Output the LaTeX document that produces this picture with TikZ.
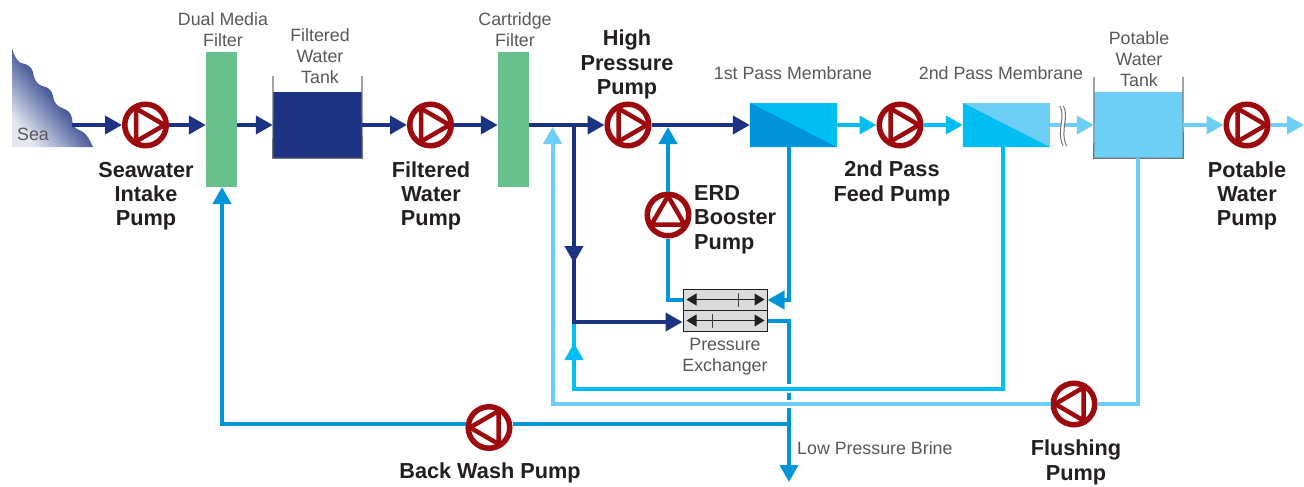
\documentclass[tikz,border=0pt]{standalone}
\usepackage{fontspec}
\setmainfont{Liberation Sans}
\usetikzlibrary{arrows.meta,calc}
\definecolor{navyc}{HTML}{1B3382}
\definecolor{bluec}{HTML}{0095DA}
\definecolor{cyanc}{HTML}{00BDF2}
\definecolor{lightc}{HTML}{6DCFF6}
\definecolor{greenc}{HTML}{68C18C}
\definecolor{redc}{HTML}{9E0B0F}
\definecolor{lab}{HTML}{58595B}
\definecolor{boldc}{HTML}{231F20}
\newcommand{\pumpmark}[2]{\draw[redc,line width=4.5pt,miter limit=10,shift={(#1.center)},rotate=#2] (19,0) -- (-9.5,16.5) -- (-9.5,-16.5) -- cycle;}
\tikzset{
  pumpnode/.style={circle,draw=redc,fill=white,line width=5.5pt,minimum size=41.5pt,inner sep=0pt},
  pipe/.style={line width=4pt,line join=miter,-{Triangle[length=17pt,width=18pt]}},
  plainpipe/.style={line width=4pt,line join=miter},
  thin label/.style={text=lab,font=\fontsize{17.8}{21}\selectfont,align=center,inner sep=0pt},
  bold label/.style={text=boldc,font=\fontsize{21.7}{24.3}\selectfont\bfseries,align=center,inner sep=0pt},
  filterbox/.style={fill=greenc,minimum width=31pt,minimum height=135pt,inner sep=0pt},
  tankbox/.style={minimum width=89pt,minimum height=66pt,inner sep=0pt},
  membranebox/.style={minimum width=87pt,minimum height=44pt,inner sep=0pt},
  exbox/.style={draw=boldc,fill=black!14,line width=1pt,minimum width=84pt,minimum height=21pt,inner sep=0pt},
  exarrow/.style={line width=1pt,draw=boldc,{Triangle[length=10pt,width=12pt]}-{Triangle[length=10pt,width=12pt]}},
  walls/.style={draw=black!55,line width=1.2pt},
}
\begin{document}
\begin{tikzpicture}[x=1pt,y=-1pt]
\useasboundingbox (0,0) rectangle (1304,487);
\fill[white] (0,0) rectangle (1304,487);
% sea
\shade[top color=navyc,bottom color=navyc!12,middle color=navyc!78,shading angle=-50]
 (12,48) .. controls (14,56) and (17,61) .. (21,63)
 .. controls (27,64) and (31,66) .. (33,72)
 .. controls (34,80) and (37,84) .. (42,86)
 .. controls (48,87) and (52,90) .. (53,96)
 .. controls (54,103) and (57,106) .. (62,108)
 .. controls (68,110) and (71,113) .. (72,118)
 .. controls (72,124) and (74,128) .. (79,130)
 .. controls (85,132) and (88,136) .. (93,147)
 -- (12,147) -- cycle;
\coordinate (seaout) at (72,125);
% equipment
\node[filterbox] (dmf) at (221.5,119.5) {};
\node[filterbox] (cf) at (513.5,119.5) {};
\node[tankbox,fill=navyc] (ft) at (317.5,125) {};
\node[tankbox,fill=lightc] (pt) at (1138.5,125) {};
\draw[walls] (273,76) -- (ft.south west) -- (ft.south east) -- (362,76);
\draw[walls] (1094,77) -- (pt.south west) -- (pt.south east) -- (1183,77);
\node[membranebox,fill=cyanc] (m1) at (793.5,125) {};
\fill[bluec] (m1.north west) -- (m1.south east) -- (m1.south west) -- cycle;
\node[membranebox,fill=lightc] (m2) at (1006.5,125) {};
\fill[cyanc] (m2.north west) -- (m2.south east) -- (m2.south west) -- cycle;
% pumps
\node[pumpnode] (p1) at (145.5,125) {};
\node[pumpnode] (p2) at (430.5,125) {};
\node[pumpnode] (p3) at (628,125) {};
\node[pumpnode] (p4) at (900,125) {};
\node[pumpnode] (p5) at (1247,125) {};
\node[pumpnode] (p6) at (668,215) {};
\node[pumpnode] (p7) at (489,427.5) {};
\node[pumpnode] (p8) at (1074,404) {};
\pumpmark{p1}{0}\pumpmark{p2}{0}\pumpmark{p3}{0}\pumpmark{p4}{0}\pumpmark{p5}{0}
\pumpmark{p6}{90}\pumpmark{p7}{180}\pumpmark{p8}{180}
% exchanger
\node[exbox] (ex1) at (725,299.5) {};
\node[exbox] (ex2) at (725,320.5) {};
\draw[exarrow] ($(ex1.west)+(4,0)$) -- ($(ex1.east)+(-3,0)$);
\draw[exarrow] ($(ex2.west)+(4,0)$) -- ($(ex2.east)+(-3,0)$);
\draw[line width=1pt,boldc!85] (738,293) -- (738,307) (712,314) -- (712,328);
% helper coordinates
\coordinate (jn) at (574,125);
\coordinate (jl) at (552.5,127);
\coordinate (je) at (668,127);
\coordinate (jc) at (574,322);
\coordinate (br) at (789,424);
\coordinate (brend) at (789,482);
% light flushing loop
\draw[plainpipe,lightc] (1138,158) |- (p8.east);
\draw[pipe,lightc] (p8.west) -- (552.5,404) -- (jl);
% permeate of second pass
\draw[plainpipe,cyanc] (1003,147) -- (1003,389) -- (574,389) -- (jc);
\draw[pipe,cyanc] (574,389) -- (574,343);
% navy
\draw[pipe,navyc] (seaout) -- (p1.west);
\draw[pipe,navyc] (p1.east) -- (dmf.west |- p1.east);
\draw[pipe,navyc] (dmf.east |- p1.east) -- (ft.west);
\draw[pipe,navyc] (ft.east) -- (p2.west);
\draw[pipe,navyc] (p2.east) -- (cf.west |- p2.east);
\draw[pipe,navyc] (cf.east |- p2.east) -- (p3.west);
\draw[pipe,navyc] (p3.east) -- (m1.west);
\draw[plainpipe,navyc] (jn) -- (jc) -- (600,322);
\draw[pipe,navyc] (jc) -- (ex2.west |- jc);
\draw[pipe,navyc] (jn) -- (574,263);
% cyan
\draw[pipe,cyanc] (m1.east) -- (p4.west);
\draw[pipe,cyanc] (p4.east) -- (m2.west);
% light
\draw[pipe,lightc] (m2.east) -- (pt.west);
\draw[pipe,lightc] (pt.east) -- (p5.west);
\draw[pipe,lightc] (p5.east) -- (1304,125);
% blue
\draw[plainpipe,bluec] (ex1.west |- 0,300) -- (668,300) -- (p6.south);
\draw[pipe,bluec] (p6.north) -- (je);
\draw[pipe,bluec] (789,147) -- (789,300) -- (ex1.east |- 0,300);
\draw[plainpipe,bluec] (ex2.east |- 0,321) -- (789,321) -- (789,384);
\draw[plainpipe,bluec] (789,393) -- (789,400);
\draw[pipe,bluec] (789,408) -- (brend);
\draw[plainpipe,bluec] (br) -- (p7.east |- br);
\draw[pipe,bluec] (p7.west |- br) -- (222,424) -- (222,187);
% wiggle break
\fill[white] (1061,115) rectangle (1065,136);
\draw[line width=1pt,black!55] (1060,106) .. controls (1066,118) and (1056,130) .. (1063,146);
\draw[line width=1pt,black!55] (1063.5,106) .. controls (1069.5,118) and (1059.5,130) .. (1066.5,146);
% labels
\node[thin label] (l1) at (223,30) {Dual Media\\Filter};
\node[thin label] (l2) at (320,56.5) {Filtered\\Water\\Tank};
\node[thin label] (l3) at (515,30) {Cartridge\\Filter};
\node[thin label] (l4) at (793,73) {1st Pass Membrane};
\node[thin label] (l5) at (1001,73) {2nd Pass Membrane};
\node[thin label] (l6) at (1139,59.5) {Potable\\Water\\Tank};
\node[thin label] (l7) at (725,357) {Pressure\\Exchanger};
\node[thin label,anchor=west] (l8) at (797,448) {Low Pressure Brine};
\node[thin label] (l9) at (33,134) {Sea};
\node[bold label] (b1) at (146,196) {Seawater\\Intake\\Pump};
\node[bold label] (b2) at (431,196) {Filtered\\Water\\Pump};
\node[bold label] (b3) at (627,64.5) {High\\Pressure\\Pump};
\node[bold label,align=left,anchor=west] (b4) at (694,219.5) {ERD\\Booster\\Pump};
\node[bold label] (b5) at (892,183.5) {2nd Pass\\Feed Pump};
\node[bold label] (b6) at (1247,196) {Potable\\Water\\Pump};
\node[bold label] (b7) at (1076,462.5) {Flushing\\Pump};
\node[bold label] (b8) at (490,473) {Back Wash Pump};
\end{tikzpicture}
\end{document}
